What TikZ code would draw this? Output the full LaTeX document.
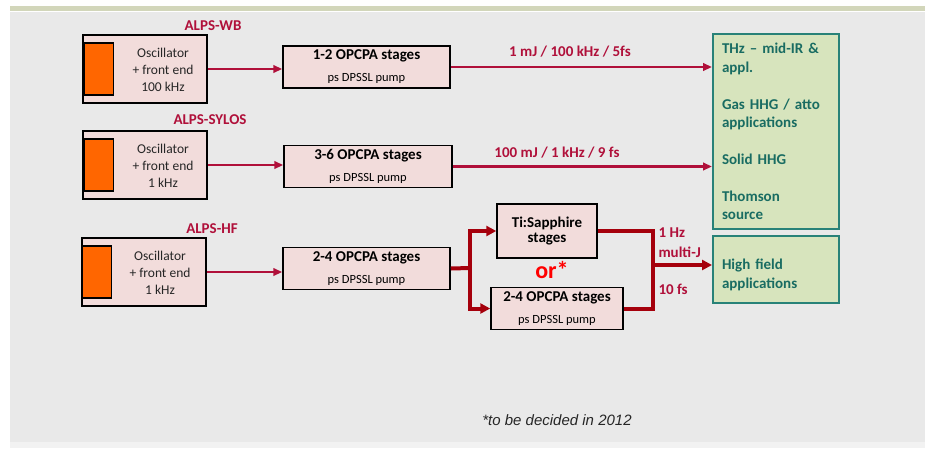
\documentclass[tikz,border=0pt]{standalone}
\usepackage{fontspec}
\setmainfont{Carlito}
\newfontfamily\notefont{Liberation Sans}
\usepackage{xcolor}
\usetikzlibrary{arrows.meta, positioning}

\definecolor{alpsred}{RGB}{176,16,58}
\definecolor{beamred}{RGB}{165,0,12}
\definecolor{stagefill}{RGB}{242,220,219}
\definecolor{seedorange}{RGB}{255,102,0}
\definecolor{appfill}{RGB}{215,228,189}
\definecolor{appedge}{RGB}{40,130,120}
\definecolor{apptext}{RGB}{25,108,98}
\definecolor{panel}{RGB}{233,233,233}
\definecolor{band}{RGB}{210,214,186}
\newcommand{\pumpfont}{\fontsize{12.5}{15}\selectfont}

\begin{document}
\begin{tikzpicture}[x=1pt, y=-1pt,
        stage/.style={draw, line width=1.5pt, fill=stagefill, align=center, inner sep=0pt},
        oscbox/.style={stage, minimum width=124pt, minimum height=68pt},
        seed/.style={draw, line width=1.5pt, fill=seedorange, minimum width=29pt, minimum height=52pt, inner sep=0pt, anchor=west},
        osctext/.style={align=center, text=black!85, font=\fontsize{13.5}{17}\selectfont},
        ampbox/.style={stage, minimum width=167pt, minimum height=42pt, font=\fontsize{15}{18}\selectfont},
        alps/.style={text=alpsred, font=\fontsize{15}{18}\bfseries\selectfont},
        rate/.style={text=alpsred, font=\fontsize{15}{18}\bfseries\selectfont},
        appbox/.style={draw=appedge, line width=2pt, fill=appfill, text=apptext, align=left, text width=108pt, inner sep=9pt, font=\fontsize{15}{18.4}\bfseries\selectfont},
        beam/.style={draw=alpsred, line width=2.3pt, -{Triangle[length=9pt, width=7.5pt]}},
        hfbeam/.style={draw=beamred, line width=4pt},
        hfarrow/.style={hfbeam, -{Triangle[length=10pt, width=10pt]}}
    ]
        \useasboundingbox (0,0) rectangle (925,448);
        \fill[white] (0,0) rectangle (925,448);
        \fill[panel] (10,12) rectangle (925,442);
        \fill[band] (10,6) rectangle (925,11);
        \fill[panel!60!white] (10,442) rectangle (925,448);

        \node[oscbox] (wb) at (145,69) {};
        \node[seed] (wbseed) at ([xshift=1.5pt]wb.west) {};
        \node[osctext] (wbtext) at (163,70) {Oscillator\\+ front end\\100 kHz};
        \node[alps] (wbname) at (213,26) {ALPS-WB};

        \node[oscbox] (sylos) at (145,165) {};
        \node[seed] (sylosseed) at ([xshift=1.5pt]sylos.west) {};
        \node[osctext] (sylostext) at (163,166) {Oscillator\\+ front end\\1 kHz};
        \node[alps] (sylosname) at (210,120) {ALPS-SYLOS};

        \node[oscbox] (hf) at (144,272) {};
        \node[seed] (hfseed) at ([xshift=0.5pt]hf.west) {};
        \node[osctext] (hftext) at (160,273) {Oscillator\\+ front end\\1 kHz};
        \node[alps] (hfname) at (212,229) {ALPS-HF};

        \node[ampbox] (wbamp) at (366.5,67) {\textbf{1-2 OPCPA stages}\\[4pt]{\pumpfont ps DPSSL pump}};
        \node[ampbox, minimum width=168pt] (sylosamp) at (368,166.5) {\textbf{3-6 OPCPA stages}\\[4pt]{\pumpfont ps DPSSL pump}};
        \node[ampbox] (hfamp) at (366.5,268.5) {\textbf{2-4 OPCPA stages}\\[4pt]{\pumpfont ps DPSSL pump}};
        \node[ampbox, minimum width=100pt, minimum height=54pt, font=\fontsize{15}{15}\bfseries\selectfont] (tisa) at (547,231) {Ti:Sapphire\\stages};
        \node[ampbox, minimum width=132pt] (hfopa) at (557,308.5) {\textbf{2-4 OPCPA stages}\\[4pt]{\pumpfont ps DPSSL pump}};
        \node[text=red, font=\fontsize{24}{28}\bfseries\selectfont] (orstar) at (552,270) {or*};

        \node[appbox, minimum height=191pt] (apps) at (776,131.5) {THz -- mid-IR \&\\appl.\\~\\Gas HHG / atto\\applications\\~\\Solid HHG\\~\\Thomson\\source};
        \node[appbox, minimum height=67pt] (hfapps) at (776,269.5) {\vphantom{H}\\[-6.8pt]High field\\applications};

        \node[rate] (wbrate) at (570,52) {1 mJ / 100 kHz / 5fs};
        \node[rate] (sylosrate) at (557,153) {100 mJ / 1 kHz / 9 fs};
        \node[rate, anchor=west] (hfrep) at (655,233) {1 Hz};
        \node[rate, anchor=west] (hfenergy) at (655,252) {multi-J};
        \node[rate, anchor=west] (hfdur) at (655,289) {10 fs};

        \node[text=black!85, font=\notefont\itshape\fontsize{15}{18}\selectfont] (note) at (557,420) {*to be decided in 2012};

        \coordinate (split) at (470,268);
        \coordinate (merge) at (653,265);

        \draw[beam] (wb.east) -- (wb.east -| wbamp.west);
        \draw[beam] (sylos.east) -- (sylos.east -| sylosamp.west);
        \draw[beam] (hf.east) -- (hf.east -| hfamp.west);
        \draw[beam] (wbamp.east) -- (wbamp.east -| apps.west);
        \draw[beam] (sylosamp.east) -- (sylosamp.east -| apps.west);

        \draw[hfbeam] (hfamp.east) -- (split);
        \draw[hfarrow] (split) |- (tisa.west);
        \draw[hfarrow] (split) |- (hfopa.west);
        \draw[hfbeam, line join=miter] (tisa.east) -| (merge) |- (hfopa.east);
        \draw[hfarrow] (merge) -- (merge -| hfapps.west);
\end{tikzpicture}
\end{document}
